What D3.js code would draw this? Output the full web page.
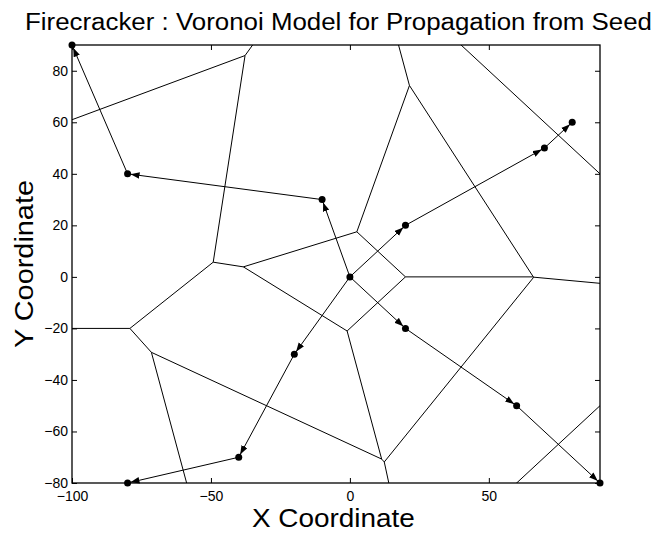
<!DOCTYPE html>
<html>
<head>
<meta charset="utf-8">
<script src="https://cdn.jsdelivr.net/npm/d3@7"></script>
<style>
	body { margin: 0; background: #fff; }
	svg { display: block; font-family: 'Liberation Sans', Arial, sans-serif; }
</style>
</head>
<body>
<svg></svg>
<script>
'use strict'

// seed and propagated points (data units)
let pointX = [0, 20, 70, 80, -10, -80, -100, 20, 60, 90, -20, -40, -80]
let pointY = [0, 20, 50, 60, 30, 40, 90, -20, -50, -80, -30, -70, -80]

// propagation arrows, by point index
let arrowFrom = [0, 1, 2, 0, 4, 5, 0, 7, 8, 0, 10, 11]
let arrowTo = [1, 2, 3, 4, 5, 6, 7, 8, 9, 10, 11, 12]

let xTicks = [-100, -50, 0, 50]
let yTicks = [-80, -60, -40, -20, 0, 20, 40, 60, 80]

let width = 655,
	height = 534

let plotLeft = 72, plotRight = 600, plotTop = 45, plotBottom = 483

let svg = d3.select('svg')
	.attr('width', width)
	.attr('height', height)

let x = d3.scaleLinear().domain([-100, 90]).range([plotLeft, plotRight])
let y = d3.scaleLinear().domain([-80, 90]).range([plotBottom, plotTop])

let points = pointX.map(function(d, i) {
	return [d, pointY[i]]
})

let defs = svg.append('defs')

defs.append('clipPath')
	.attr('id', 'plotArea')
	.append('rect')
	.attr('x', plotLeft)
	.attr('y', plotTop)
	.attr('width', plotRight - plotLeft)
	.attr('height', plotBottom - plotTop)

defs.append('marker')
	.attr('id', 'head')
	.attr('viewBox', '0 -3.5 12 7')
	.attr('refX', 12)
	.attr('refY', 0)
	.attr('markerWidth', 12)
	.attr('markerHeight', 7)
	.attr('markerUnits', 'userSpaceOnUse')
	.attr('orient', 'auto')
	.append('path')
	.attr('d', 'M0,-3.3L9,0L0,3.3Z')
	.attr('fill', '#000')

// voronoi computed in data space, then drawn through the scales
let voronoi = d3.Delaunay.from(points).voronoi([-1000, -1000, 1000, 1000])
let vPath = d3.path()
voronoi.render({
	moveTo: function(a, b) { vPath.moveTo(x(a), y(b)) },
	lineTo: function(a, b) { vPath.lineTo(x(a), y(b)) },
	closePath: function() { vPath.closePath() }
})

svg.append('path')
	.attr('clip-path', 'url(#plotArea)')
	.attr('d', vPath.toString())
	.attr('fill', 'none')
	.attr('stroke', '#000')
	.attr('stroke-width', 1)

svg.append('g')
	.selectAll('line')
	.data(arrowFrom)
	.enter().append('line')
	.attr('x1', function(d) { return x(pointX[d]) })
	.attr('y1', function(d) { return y(pointY[d]) })
	.attr('x2', function(d, i) { return x(pointX[arrowTo[i]]) })
	.attr('y2', function(d, i) { return y(pointY[arrowTo[i]]) })
	.attr('stroke', '#000')
	.attr('stroke-width', 1)
	.attr('marker-end', 'url(#head)')

svg.append('g')
	.selectAll('circle')
	.data(points)
	.enter().append('circle')
	.attr('cx', function(d) { return x(d[0]) })
	.attr('cy', function(d) { return y(d[1]) })
	.attr('r', 3.5)
	.attr('fill', '#000')

// axes, ticks pointing inward
let fmt = function(d) { return d < 0 ? '\u2212' + Math.abs(d) : d }

let xAxis = svg.append('g')
	.attr('transform', 'translate(0,' + plotBottom + ')')
	.call(d3.axisBottom(x).tickValues(xTicks).tickSizeInner(-5).tickSizeOuter(0).tickPadding(8).tickFormat(fmt))

let yAxis = svg.append('g')
	.attr('transform', 'translate(' + plotLeft + ',0)')
	.call(d3.axisLeft(y).tickValues(yTicks).tickSizeInner(-5).tickSizeOuter(0).tickPadding(4).tickFormat(fmt))

let topAxis = svg.append('g')
	.attr('transform', 'translate(0,' + plotTop + ')')
	.call(d3.axisTop(x).tickValues(xTicks).tickSizeInner(-5).tickSizeOuter(0).tickFormat(''))

let rightAxis = svg.append('g')
	.attr('transform', 'translate(' + plotRight + ',0)')
	.call(d3.axisRight(y).tickValues(yTicks).tickSizeInner(-5).tickSizeOuter(0).tickFormat(''))

;[xAxis, yAxis, topAxis, rightAxis].forEach(function(g) {
	g.select('.domain').remove()
	g.selectAll('line').attr('stroke', '#000')
	g.selectAll('text')
		.attr('fill', '#000')
		.style('font-size', '14px')
		.style('font-family', "'Liberation Sans', Arial, sans-serif")
})

svg.append('rect')
	.attr('x', plotLeft)
	.attr('y', plotTop)
	.attr('width', plotRight - plotLeft)
	.attr('height', plotBottom - plotTop)
	.attr('fill', 'none')
	.attr('stroke', '#000')
	.attr('stroke-width', 1.3)

svg.append('text')
	.attr('x', 338.5)
	.attr('y', 30)
	.attr('text-anchor', 'middle')
	.attr('textLength', 627)
	.attr('lengthAdjust', 'spacingAndGlyphs')
	.style('font-size', '23px')
	.text('Firecracker : Voronoi Model for Propagation from Seed')

svg.append('text')
	.attr('x', 333.4)
	.attr('y', 526.7)
	.attr('text-anchor', 'middle')
	.attr('textLength', 163)
	.attr('lengthAdjust', 'spacingAndGlyphs')
	.style('font-size', '26.5px')
	.text('X Coordinate')

svg.append('text')
	.attr('transform', 'translate(33,264) rotate(-90)')
	.attr('text-anchor', 'middle')
	.attr('textLength', 168)
	.attr('lengthAdjust', 'spacingAndGlyphs')
	.style('font-size', '26.5px')
	.text('Y Coordinate')
</script>
</body>
</html>
